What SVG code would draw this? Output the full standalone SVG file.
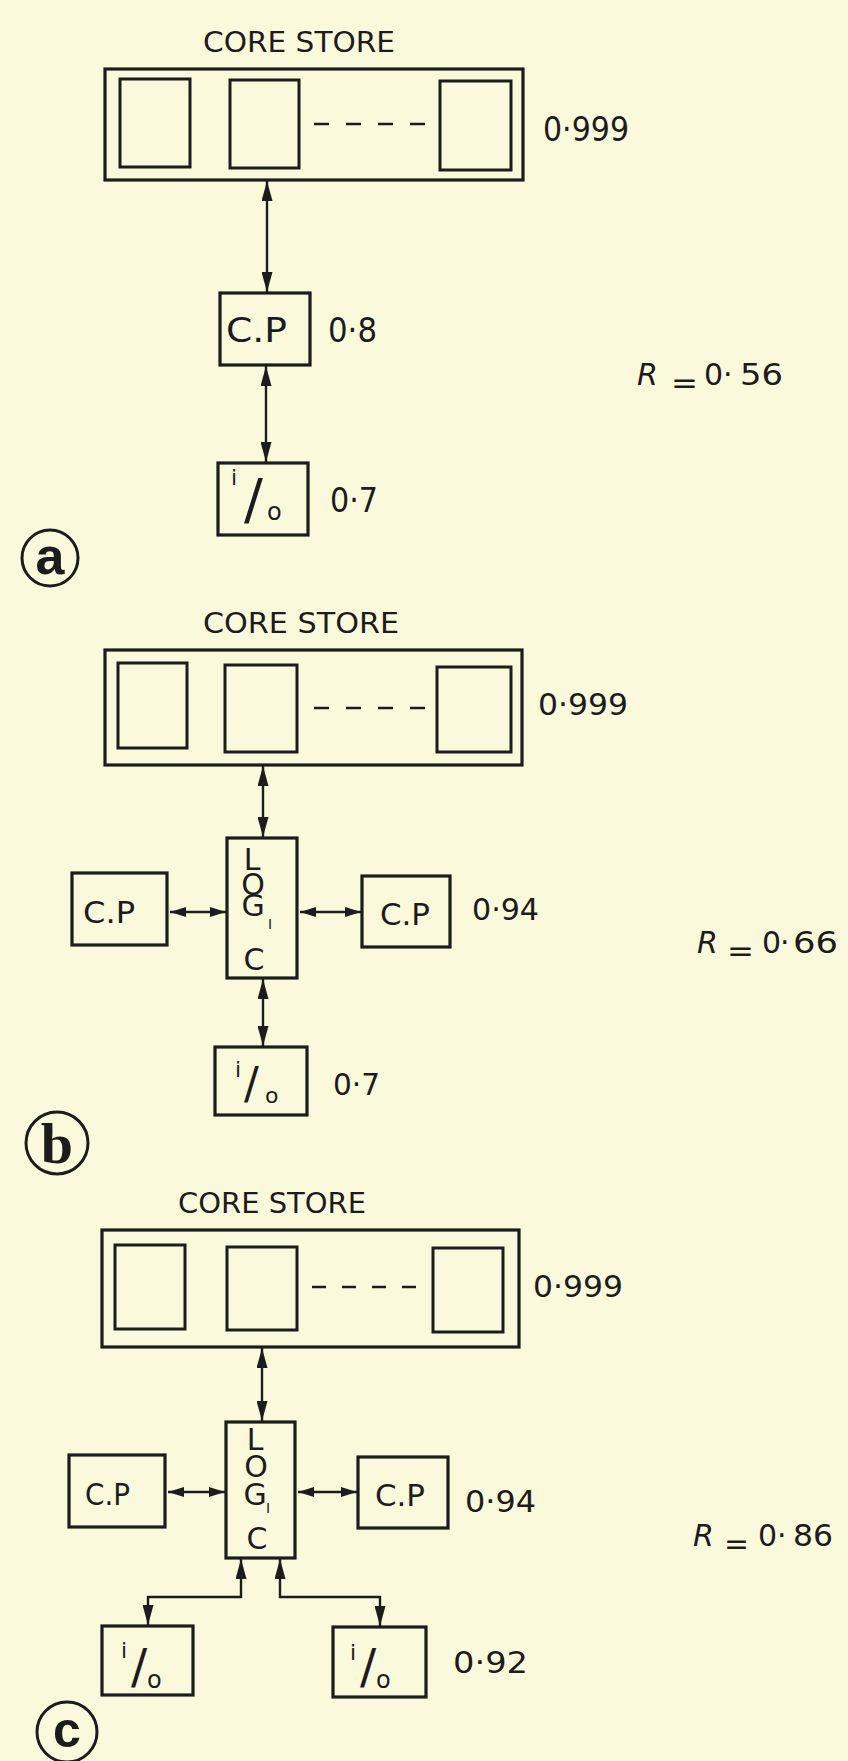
<svg xmlns="http://www.w3.org/2000/svg" width="848" height="1761" viewBox="0 0 848 1761">
<style>
.box{fill:none;stroke:#1c1c1c;stroke-width:3.2}
.cell{fill:none;stroke:#1c1c1c;stroke-width:3}
.dash{stroke:#1c1c1c;stroke-width:2.6;stroke-dasharray:15 17}
.conn{fill:none;stroke:#1c1c1c;stroke-width:2.4;marker-start:url(#ah);marker-end:url(#ah)}
.connh{fill:none;stroke:#1c1c1c;stroke-width:2.4;marker-start:url(#ahs);marker-end:url(#ahs)}
.ring{fill:none;stroke:#1c1c1c;stroke-width:3}
text{font-family:"DejaVu Sans","Liberation Sans",sans-serif;fill:#1c1c1c}
.title{font-size:28px}
.numA{font-size:33px}
.num{font-size:30px}
.cpA{font-size:33px}
.cp{font-size:31px}
.lg{font-size:30px;text-anchor:middle}
.lgi{font-size:14px;text-anchor:middle}
.rv{font-size:30px}
.it{font-style:italic}
.tag{font-family:"Liberation Sans",Arial,sans-serif;font-weight:bold;text-anchor:middle}
.tagb{font-family:"Liberation Serif","Times New Roman",serif;font-weight:bold;text-anchor:middle}
</style>
<defs>
<marker id="ah" markerUnits="userSpaceOnUse" viewBox="0 0 20 11" markerWidth="20" markerHeight="11" refX="20" refY="5.5" orient="auto-start-reverse">
<path d="M0,0 L20,5.5 L0,11 z" fill="#1c1c1c"/>
</marker>
<marker id="ahs" markerUnits="userSpaceOnUse" viewBox="0 0 16 10" markerWidth="16" markerHeight="10" refX="16" refY="5" orient="auto-start-reverse">
<path d="M0,0 L16,5 L0,10 z" fill="#1c1c1c"/>
</marker>
</defs>
<rect width="848" height="1761" fill="#fbf9dc"/>

<!-- Panel a -->
<g id="a-store">
<text class="title" x="203" y="52" textLength="192" lengthAdjust="spacingAndGlyphs">CORE STORE</text>
<rect class="box" x="105" y="69" width="418" height="111"/>
<rect class="cell" x="120" y="79" width="70" height="88"/>
<rect class="cell" x="230" y="80" width="69" height="88"/>
<rect class="cell" x="440" y="81" width="71" height="89"/>
<line class="dash" x1="314" y1="124" x2="428" y2="124"/>
<text class="numA" x="543" y="141" textLength="86" lengthAdjust="spacingAndGlyphs">0·999</text>
</g>
<g id="a-cp">
<rect class="box" x="220" y="293" width="90" height="72"/>
<text class="cpA" x="226" y="342" textLength="61" lengthAdjust="spacingAndGlyphs">C.P</text>
<text class="numA" x="328" y="342" textLength="49" lengthAdjust="spacingAndGlyphs">0·8</text>
</g>
<g id="a-io">
<rect class="box" x="218" y="463" width="90" height="72"/>
<text x="231" y="485" font-size="22">i</text>
<text x="244" y="518" font-size="56">/</text>
<text x="267" y="520" font-size="24">o</text>
<text class="numA" x="330" y="512" textLength="48" lengthAdjust="spacingAndGlyphs">0·7</text>
</g>
<g id="a-r">
<text class="rv it" x="637" y="385">R</text>
<text class="rv" x="671" y="393" textLength="27" lengthAdjust="spacingAndGlyphs">=</text>
<text class="rv" x="704" y="385">0</text>
<text class="rv" x="723" y="385">·</text>
<text class="rv" x="740" y="385" textLength="43" lengthAdjust="spacingAndGlyphs">56</text>
</g>
<g id="a-tag">
<circle class="ring" cx="50" cy="558" r="28"/>
<text class="tag" x="50" y="574" font-size="52">a</text>
</g>

<!-- Panel b -->
<g id="b-store">
<text class="title" x="203" y="633" textLength="196" lengthAdjust="spacingAndGlyphs">CORE STORE</text>
<rect class="box" x="105" y="650" width="417" height="115"/>
<rect class="cell" x="118" y="663" width="69" height="85"/>
<rect class="cell" x="225" y="665" width="72" height="87"/>
<rect class="cell" x="437" y="667" width="74" height="85"/>
<line class="dash" x1="314" y1="708" x2="428" y2="708"/>
<text class="num" x="538" y="715" textLength="90" lengthAdjust="spacingAndGlyphs">0·999</text>
</g>
<g id="b-logic">
<rect class="box" x="227" y="838" width="70" height="140"/>
<text class="lg" x="252" y="870">L</text>
<text class="lg" x="253" y="895">O</text>
<text class="lg" x="253" y="916">G</text>
<text class="lgi" x="270" y="929">I</text>
<text class="lg" x="254" y="970">C</text>
</g>
<g id="b-cp-left">
<rect class="box" x="72" y="873" width="95" height="72"/>
<text class="cp" x="83" y="923" textLength="52" lengthAdjust="spacingAndGlyphs">C.P</text>
</g>
<g id="b-cp-right">
<rect class="box" x="362" y="876" width="88" height="71"/>
<text class="cp" x="380" y="925" textLength="50" lengthAdjust="spacingAndGlyphs">C.P</text>
<text class="num" x="472" y="920" textLength="67" lengthAdjust="spacingAndGlyphs">0·94</text>
</g>
<g id="b-io">
<rect class="box" x="215" y="1047" width="92" height="68"/>
<text x="235" y="1077" font-size="22">i</text>
<text x="244" y="1099" font-size="44">/</text>
<text x="265" y="1103" font-size="22">o</text>
<text class="num" x="333" y="1095" textLength="47" lengthAdjust="spacingAndGlyphs">0·7</text>
</g>
<g id="b-r">
<text class="rv it" x="697" y="953">R</text>
<text class="rv" x="727" y="961" textLength="27" lengthAdjust="spacingAndGlyphs">=</text>
<text class="rv" x="762" y="953">0</text>
<text class="rv" x="780" y="953">·</text>
<text class="rv" x="793" y="953" textLength="45" lengthAdjust="spacingAndGlyphs">66</text>
</g>
<g id="b-tag">
<circle class="ring" cx="57" cy="1143" r="31"/>
<text class="tagb" x="57" y="1163" font-size="58">b</text>
</g>

<!-- Panel c -->
<g id="c-store">
<text class="title" x="178" y="1213" textLength="188" lengthAdjust="spacingAndGlyphs">CORE STORE</text>
<rect class="box" x="102" y="1230" width="417" height="117"/>
<rect class="cell" x="115" y="1245" width="70" height="84"/>
<rect class="cell" x="227" y="1247" width="70" height="83"/>
<rect class="cell" x="433" y="1248" width="70" height="84"/>
<line class="dash" x1="312" y1="1287" x2="418" y2="1287" style="stroke-dasharray:14 16"/>
<text class="num" x="533" y="1297" textLength="90" lengthAdjust="spacingAndGlyphs">0·999</text>
</g>
<g id="c-logic">
<rect class="box" x="226" y="1422" width="69" height="136"/>
<text class="lg" x="255" y="1450">L</text>
<text class="lg" x="256" y="1477">O</text>
<text class="lg" x="255" y="1505">G</text>
<text class="lgi" x="268" y="1513">I</text>
<text class="lg" x="257" y="1549">C</text>
</g>
<g id="c-cp-left">
<rect class="box" x="69" y="1455" width="96" height="72"/>
<text class="cp" x="85" y="1505" textLength="45" lengthAdjust="spacingAndGlyphs">C.P</text>
</g>
<g id="c-cp-right">
<rect class="box" x="358" y="1457" width="90" height="71"/>
<text class="cp" x="375" y="1506" textLength="50" lengthAdjust="spacingAndGlyphs">C.P</text>
<text class="num" x="465" y="1512" textLength="71" lengthAdjust="spacingAndGlyphs">0·94</text>
</g>
<g id="c-io-left">
<rect class="box" x="102" y="1626" width="91" height="69"/>
<text x="121" y="1658" font-size="22">i</text>
<text x="131" y="1683" font-size="48">/</text>
<text x="147" y="1688" font-size="24">o</text>
</g>
<g id="c-io-right">
<rect class="box" x="333" y="1627" width="93" height="70"/>
<text x="350" y="1660" font-size="22">i</text>
<text x="360" y="1683" font-size="48">/</text>
<text x="376" y="1688" font-size="24">o</text>
<text class="num" x="453" y="1673" textLength="75" lengthAdjust="spacingAndGlyphs">0·92</text>
</g>
<g id="c-r">
<text class="rv it" x="693" y="1546">R</text>
<text class="rv" x="724" y="1554" textLength="25" lengthAdjust="spacingAndGlyphs">=</text>
<text class="rv" x="758" y="1546">0</text>
<text class="rv" x="777" y="1546">·</text>
<text class="rv" x="793" y="1546" textLength="40" lengthAdjust="spacingAndGlyphs">86</text>
</g>
<g id="c-tag">
<circle class="ring" cx="67" cy="1732" r="30"/>
<text class="tag" x="67" y="1747" font-size="50">c</text>
</g>

<!-- Connectors -->
<g id="connectors">
<line class="conn" x1="267" y1="181" x2="267" y2="292"/>
<line class="conn" x1="266" y1="366" x2="266" y2="462"/>
<line class="conn" x1="263" y1="766" x2="263" y2="837"/>
<line class="conn" x1="263" y1="979" x2="263" y2="1046"/>
<line class="connh" x1="170" y1="912" x2="226" y2="912"/>
<line class="connh" x1="300" y1="912" x2="361" y2="912"/>
<line class="conn" x1="262" y1="1348" x2="262" y2="1421"/>
<line class="connh" x1="168" y1="1492" x2="225" y2="1492"/>
<line class="connh" x1="298" y1="1492" x2="357" y2="1492"/>
<polyline class="conn" points="148,1625 148,1597 241,1597 241,1559"/>
<polyline class="conn" points="380,1626 380,1597 280,1597 280,1559"/>
</g>
</svg>
